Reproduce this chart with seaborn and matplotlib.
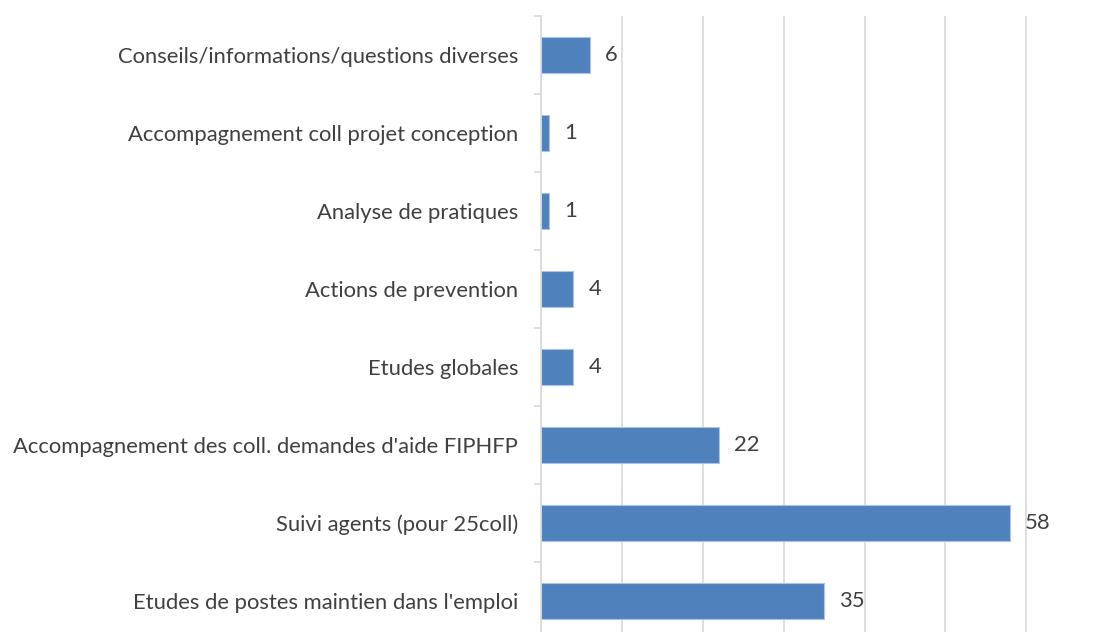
import matplotlib
matplotlib.use("Agg")
import matplotlib.pyplot as plt
import seaborn as sns
import numpy as np

# data, top to bottom
categories = [
    "Conseils/informations/questions diverses",
    "Accompagnement coll projet conception",
    "Analyse de pratiques",
    "Actions de prevention",
    "Etudes globales",
    "Accompagnement des coll. demandes d'aide FIPHFP",
    "Suivi agents (pour 25coll)",
    "Etudes de postes maintien dans l'emploi",
]
values = [6, 1, 1, 4, 4, 22, 58, 35]

sns.set_style("white")
plt.rcParams['font.family'] = ['Lato', 'DejaVu Sans']

fig = plt.figure(figsize=(10.98, 6.32), dpi=100)
ax = fig.add_axes([541 / 1098, -8 / 632, 487 / 1098, 624 / 632])

sns.barplot(x=values, y=categories, orient='h', color='#4F81BD', width=0.45,
            edgecolor='#A9C4E6', linewidth=0.8, saturation=1, ax=ax)

ax.set_xlim(0, 60.2)
ax.set_ylim(len(categories) - 0.5, -0.5)
ax.set_xticks(np.arange(0, 61, 10))
ax.set_xticklabels([])
ax.tick_params(axis='x', length=0)
ax.grid(axis='x', color='#D9D9D9', linewidth=1.2)
ax.set_axisbelow(True)

# tick marks between categories
ax.set_yticks(np.arange(-0.5, len(categories), 1), minor=True)
ax.tick_params(axis='y', which='minor', left=True, length=5, color='#D9D9D9', width=1.2)
ax.tick_params(axis='y', which='major', left=False, length=0, pad=16.5,
               labelsize=15.8, labelcolor='#404040')

for s in ['top', 'right', 'bottom']:
    ax.spines[s].set_visible(False)
ax.spines['left'].set_color('#D9D9D9')
ax.spines['left'].set_linewidth(1.2)

for i, v in enumerate(values):
    ax.annotate(str(v), (v, i), xytext=(15, 0), textcoords='offset pixels',
                va='center', ha='left', fontsize=15.8, color='#404040')

ax.set_xlabel('')
ax.set_ylabel('')

fig.savefig('out.png', dpi=100)
